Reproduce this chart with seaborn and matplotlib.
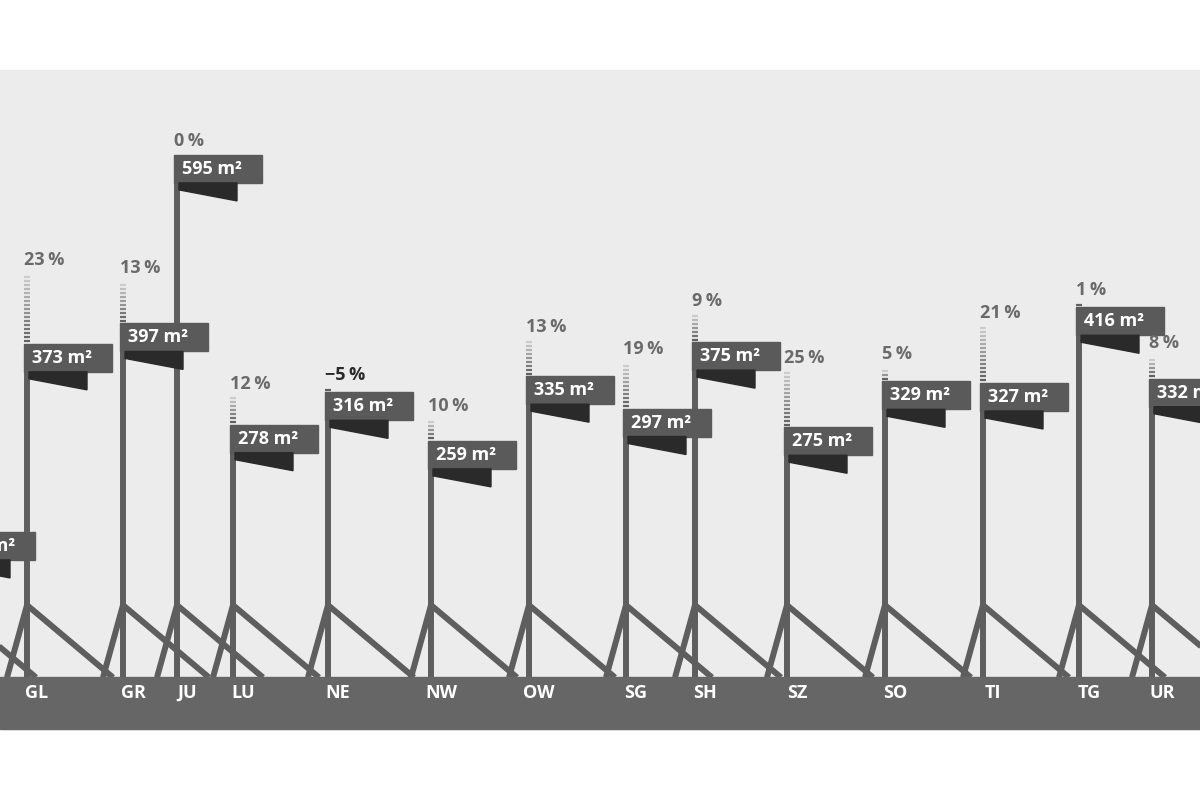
import matplotlib
matplotlib.use("Agg")
import matplotlib.pyplot as plt
import seaborn as sns
import numpy as np
from matplotlib.patches import Rectangle, Polygon

sns.set_style("white")
plt.rcParams['font.family'] = ['Open Sans', 'DejaVu Sans']

cantons = ["GE", "GL", "GR", "JU", "LU", "NE", "NW", "OW", "SG", "SH", "SZ", "SO", "TI", "TG", "UR"]
positions = [-50, 27, 123, 177, 233, 328, 431, 529, 626, 695, 787, 885, 983, 1079, 1152]
values = [152, 373, 397, 595, 278, 316, 259, 335, 297, 375, 275, 329, 327, 416, 332]
changes = [None, 23, 13, 0, 12, -5, 10, 13, 19, 9, 25, 5, 21, 1, 8]

POLE = "#5e5e5e"; FLAG = "#5a5a5a"; TRI = "#2a2a2a"; BG = "#ececec"; GROUND = "#666666"
K = 1 / 0.851  # m² per pixel

fig = plt.figure(figsize=(12, 8), dpi=100)
ax = fig.add_axes([0, 0, 1, 1])
ax.set_xlim(0, 1200)
ax.set_ylim(-163, 777)
ax.axis("off")

ax.add_patch(Rectangle((0, -79), 1200, 695 + 79, color=BG, zorder=0))
ax.add_patch(Rectangle((0, -79), 1200, 60, color=GROUND, zorder=5))

legtop = 66
for c, x, v, p in zip(cantons, positions, values, changes):
    ax.plot([x, x - 20], [legtop, -19], color=POLE, lw=4.3, zorder=2, solid_capstyle="butt")
    ax.plot([x, x + 86], [legtop, -19], color=POLE, lw=4.3, zorder=2, solid_capstyle="butt")
    ax.plot([x, x], [-19, v], color=POLE, lw=4.3, zorder=3, solid_capstyle="butt")
    fh = 28 * K
    ax.add_patch(Rectangle((x - 3, v - fh), 88, fh, color=FLAG, zorder=4))
    ax.text(x + 5, v - fh / 2, f"{v} m²", color="white", fontsize=13, fontweight="bold",
            va="center", ha="left", zorder=6)
    fb = v - fh
    ax.add_patch(Polygon([[x + 2, fb], [x + 60, fb], [x + 60, fb - 18 * K], [x + 2, fb - 7 * K]],
                         closed=True, color=TRI, zorder=4))
    if p is not None:
        L = v * p / 100 * 0.95 if p > 0 else (4 if p < 0 else 0)
        if L > 0:
            ys = np.arange(v + 2.5 * K, v + L, 4 * K)
            n = len(ys)
            for i, yy in enumerate(ys):
                shade = 0.38 + 0.42 * (i / max(n - 1, 1))
                ax.plot([x - 3, x + 3], [yy, yy], color=str(shade), lw=1.6, zorder=3, solid_capstyle="butt")
        txt = f"{p}\u2009%" if p >= 0 else f"\u2212{-p}\u2009%"
        col = "#6a6a6a" if p >= 0 else "#2a2a2a"
        ax.text(x - 3, v + L + 5 * K, txt, color=col, fontsize=13, fontweight="bold",
                ha="left", va="bottom", zorder=6)
    ax.text(x + 10, -37, c, color="white", fontsize=13, fontweight="bold",
            ha="center", va="center", zorder=6)

fig.savefig("out.png", dpi=100)
